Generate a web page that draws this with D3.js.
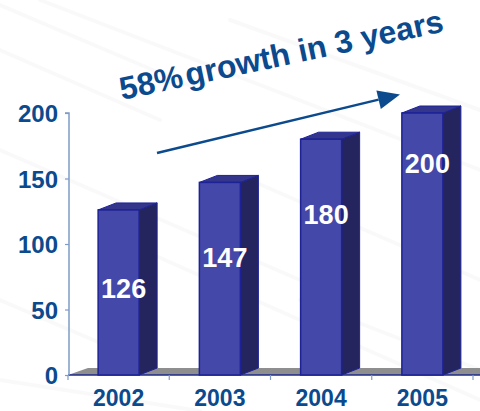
<!DOCTYPE html>
<html>
<head>
<meta charset="utf-8">
<script src="https://cdn.jsdelivr.net/npm/d3@7"></script>
<style>
  html, body { margin: 0; padding: 0; background: #fff; }
  svg { display: block; }
  text { font-family: "Liberation Sans", Arial, sans-serif; font-weight: bold; }
</style>
</head>
<body>
<div id="chart"></div>
<script>
// Data
const years = ["2002", "2003", "2004", "2005"];
const values = [126, 147, 180, 200];
const yTicks = [0, 50, 100, 150, 200];
const headlineParts = ["58%", "growth in 3 years"];

const W = 480, H = 411;
const svg = d3.select("#chart").append("svg").attr("width", W).attr("height", H);

// faint streaked backdrop
const streaks = [
  [0, 5, 200, 90], [40, 0, 480, 170], [0, 50, 160, 120], [230, 20, 480, 110],
  [0, 150, 300, 280], [120, 240, 480, 400], [0, 300, 140, 360], [300, 300, 480, 370],
  [0, 380, 200, 411], [250, 180, 480, 280]
];
svg.append("g").selectAll("line").data(streaks).join("line")
  .attr("x1", d => d[0]).attr("y1", d => d[1]).attr("x2", d => d[2]).attr("y2", d => d[3])
  .attr("stroke", "#000").attr("stroke-opacity", 0.025).attr("stroke-width", 4)
  .attr("stroke-linecap", "round");

const blue = "#0c4a8e";
const x0 = 68, x1 = 473, yBase = 375, yTop = 113;
const dx = 18, dy = 7;

const x = d3.scaleBand().domain(years).range([x0, x1])
  .paddingInner(0.595).paddingOuter(0.2975);
const y = d3.scaleLinear().domain([0, 200]).range([yBase, yTop]);

// floor
svg.append("polygon")
  .attr("points", [[x0, yBase], [x0 + dx + 2, yBase - dy], [W + 20, yBase - dy], [x1 + 20, yBase]].join(" "))
  .attr("fill", "#8e8e8e");

// x axis line
svg.append("line").attr("x1", x0).attr("x2", W).attr("y1", yBase).attr("y2", yBase)
  .attr("stroke", "#1c2a8c").attr("stroke-width", 1.5);

// category ticks
const step = x.step();
const boundaries = d3.range(years.length + 1).map(i => x0 + i * step);
svg.append("g").selectAll("line").data(boundaries).join("line")
  .attr("x1", d => d).attr("x2", d => d).attr("y1", yBase).attr("y2", yBase + 5)
  .attr("stroke", "#7f9cc8").attr("stroke-width", 1.2);

// y axis
const yAxis = d3.axisLeft(y).tickValues(yTicks).tickSize(4).tickPadding(7);
const gy = svg.append("g").attr("transform", `translate(${x0 + 1},0)`).call(yAxis);
gy.select(".domain").attr("stroke", "#7f9cc8").attr("stroke-width", 1.5)
  .attr("d", `M-4,${yTop}H0V${yBase}`);
gy.selectAll(".tick line").attr("stroke", "#7f9cc8").attr("stroke-width", 1.2);
gy.selectAll(".tick text").attr("fill", blue).style("font-size", "24px")
  .style("font-family", '"Liberation Sans", Arial, sans-serif').style("font-weight", "bold")
  .attr("dy", "0.36em");

// 3D bars
const bw = x.bandwidth();
const bars = svg.append("g").selectAll("g").data(years.map((yr, i) => ({ yr, v: values[i] }))).join("g");
bars.append("polygon") // side
  .attr("points", d => {
    const xa = x(d.yr) + bw, yt = y(d.v);
    return [[xa, yt], [xa + dx, yt - dy], [xa + dx, yBase - dy], [xa, yBase]].join(" ");
  })
  .attr("fill", "#24255f").attr("stroke", "#1d2296").attr("stroke-width", 1);
bars.append("polygon") // top
  .attr("points", d => {
    const xa = x(d.yr), yt = y(d.v);
    return [[xa, yt], [xa + dx, yt - dy], [xa + bw + dx, yt - dy], [xa + bw, yt]].join(" ");
  })
  .attr("fill", "#33368a").attr("stroke", "#1d2296").attr("stroke-width", 1);
bars.append("rect") // front
  .attr("x", d => x(d.yr)).attr("y", d => y(d.v))
  .attr("width", bw).attr("height", d => yBase - y(d.v))
  .attr("fill", "#4448a8").attr("stroke", "#1d2296").attr("stroke-width", 1.5);

// value labels, set at a height within each bar
const labelLevel = [66, 90, 123, 162];
bars.append("text")
  .attr("x", d => x(d.yr) + bw / 2 + 5)
  .attr("y", (d, i) => y(labelLevel[i]))
  .attr("dy", "0.36em")
  .attr("text-anchor", "middle")
  .attr("fill", "#fff").style("font-size", "27px")
  .text(d => d.v);

// year labels
svg.append("g").selectAll("text").data(years).join("text")
  .attr("x", d => x(d) + bw / 2)
  .attr("y", 406)
  .attr("text-anchor", "middle")
  .attr("fill", blue).style("font-size", "23px")
  .text(d => d);

// growth arrow
const ax0 = 157, ay0 = 153, ax1 = 400, ay1 = 94.5;
const ang = Math.atan2(ay1 - ay0, ax1 - ax0);
const hl = 22, hw = 9.5;
const bx = ax1 - hl * Math.cos(ang), by = ay1 - hl * Math.sin(ang);
svg.append("line").attr("x1", ax0).attr("y1", ay0).attr("x2", bx).attr("y2", by)
  .attr("stroke", blue).attr("stroke-width", 2.5);
svg.append("polygon")
  .attr("points", [[ax1, ay1],
    [bx - hw * Math.sin(ang), by + hw * Math.cos(ang)],
    [bx + hw * Math.sin(ang), by - hw * Math.cos(ang)]].join(" "))
  .attr("fill", blue);

// headline
const head = svg.append("text")
  .attr("transform", "translate(122,100) rotate(-12)")
  .attr("fill", blue).style("font-size", "32px");
head.append("tspan").text(headlineParts[0]);
head.append("tspan").attr("dx", 3).text(headlineParts[1]);
</script>
</body>
</html>
